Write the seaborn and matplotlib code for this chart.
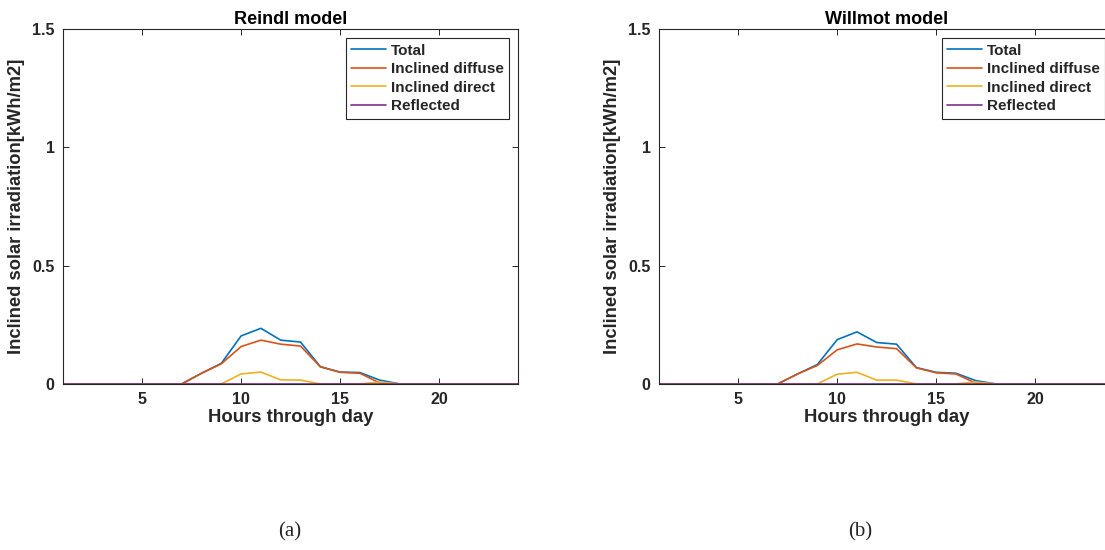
import numpy as np
import pandas as pd
import matplotlib
matplotlib.use('Agg')
import matplotlib.pyplot as plt
import seaborn as sns

hours = list(range(1, 25))

# Reindl model (a)
reindl_total = [0, 0, 0, 0, 0, 0, 0, 0.045, 0.087, 0.203, 0.235, 0.185, 0.177, 0.073, 0.050, 0.048, 0.016, 0, 0, 0, 0, 0, 0, 0]
reindl_diffuse = [0, 0, 0, 0, 0, 0, 0, 0.045, 0.085, 0.158, 0.185, 0.168, 0.160, 0.072, 0.049, 0.045, 0.004, 0, 0, 0, 0, 0, 0, 0]
reindl_direct = [0, 0, 0, 0, 0, 0, 0, 0, 0, 0.042, 0.050, 0.017, 0.016, 0, 0, 0, 0.008, 0, 0, 0, 0, 0, 0, 0]
reindl_reflected = [0] * 24

# Willmot model (b)
willmot_total = [0, 0, 0, 0, 0, 0, 0, 0.042, 0.082, 0.187, 0.220, 0.175, 0.168, 0.069, 0.049, 0.045, 0.014, 0, 0, 0, 0, 0, 0, 0]
willmot_diffuse = [0, 0, 0, 0, 0, 0, 0, 0.042, 0.078, 0.144, 0.169, 0.156, 0.149, 0.068, 0.047, 0.042, 0.003, 0, 0, 0, 0, 0, 0, 0]
willmot_direct = [0, 0, 0, 0, 0, 0, 0, 0, 0, 0.041, 0.049, 0.016, 0.016, 0, 0, 0, 0.008, 0, 0, 0, 0, 0, 0, 0]
willmot_reflected = [0] * 24

series_names = ['Total', 'Inclined diffuse', 'Inclined direct', 'Reflected']
colors = ['#0072BD', '#D95319', '#EDB120', '#7E2F8E']
titles = ['Reindl model', 'Willmot model']
panel_tags = ['(a)', '(b)']

sns.set_style('ticks')
plt.rcParams['font.family'] = ['Liberation Sans', 'DejaVu Sans']

dark = '#262626'

def make_df(total, diffuse, direct, reflected):
    frames = []
    for name, vals in zip(series_names, [total, diffuse, direct, reflected]):
        frames.append(pd.DataFrame({'hour': hours, 'value': vals, 'series': name}))
    return pd.concat(frames, ignore_index=True)

data = [make_df(reindl_total, reindl_diffuse, reindl_direct, reindl_reflected),
        make_df(willmot_total, willmot_diffuse, willmot_direct, willmot_reflected)]

fig = plt.figure(figsize=(11.05, 5.5), dpi=100)
positions = [[0.057, 0.302, 0.412, 0.645], [0.5964, 0.302, 0.412, 0.645]]

for i in range(2):
    ax = fig.add_axes(positions[i])
    sns.lineplot(data=data[i], x='hour', y='value', hue='series', hue_order=series_names,
                 palette=colors, linewidth=1.2, ax=ax)
    ax.set_xlim(1, 24)
    ax.set_ylim(0, 1.5)
    ax.set_xticks([5, 10, 15, 20])
    ax.set_yticks([0, 0.5, 1, 1.5])
    ax.set_yticklabels(['0', '0.5', '1', '1.5'])
    ax.tick_params(direction='in', top=True, right=True, length=4, width=0.7,
                   labelsize=11.5, colors=dark, pad=6)
    for lab in ax.get_xticklabels() + ax.get_yticklabels():
        lab.set_fontweight('bold')
    for sp in ax.spines.values():
        sp.set_color(dark)
        sp.set_linewidth(0.8)
    ax.set_title(titles[i], fontsize=13, fontweight='bold', color='black', pad=4)
    ax.set_xlabel('Hours through day', fontsize=13.3, fontweight='bold', color=dark, labelpad=1)
    ax.set_ylabel('Inclined solar irradiation[kWh/m2]', fontsize=13.2, fontweight='bold',
                  color=dark, labelpad=5)
    leg = ax.legend(loc='upper right', prop={'size': 11, 'weight': 'bold'}, frameon=True,
                    fancybox=False, borderaxespad=0.6, handlelength=2.3, handletextpad=0.3,
                    labelspacing=0.3, borderpad=0.35)
    leg.get_frame().set_edgecolor(dark)
    leg.get_frame().set_linewidth(0.8)
    leg.get_frame().set_alpha(1)

fig.text(0.2624, 0.024, panel_tags[0], fontsize=15, family='Liberation Serif', ha='center')
fig.text(0.7783, 0.024, panel_tags[1], fontsize=15, family='Liberation Serif', ha='center')

fig.savefig('out.png', dpi=100, facecolor='white')
